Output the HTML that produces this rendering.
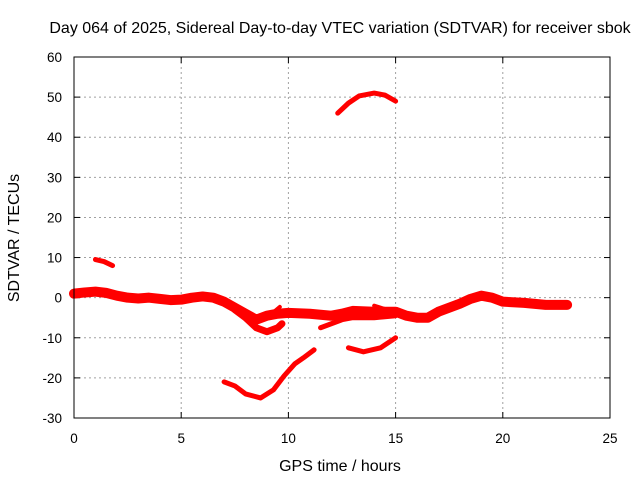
<!DOCTYPE html>
<html><head><meta charset="utf-8"><style>
html,body{margin:0;padding:0;background:#fff;}
svg{display:block;font-family:"Liberation Sans",sans-serif;}
</style></head><body>
<svg id="chart" width="640" height="480" viewBox="0 0 640 480">
<rect x="0" y="0" width="640" height="480" fill="#fff"/>
<text x="340" y="33" font-size="16" text-anchor="middle" fill="#000">Day 064 of 2025, Sidereal Day-to-day VTEC variation (SDTVAR) for receiver sbok</text>
<text x="340" y="471" font-size="16" text-anchor="middle" fill="#000">GPS time / hours</text>
<text x="19" y="238" font-size="16" text-anchor="middle" fill="#000" transform="rotate(-90 19 238)">SDTVAR / TECUs</text>
<g id="grid"></g><g id="ticks"></g><g id="series"></g>
<rect x="74" y="57" width="536" height="361" fill="none" stroke="#000" stroke-width="1"/>
</svg>
<script>
const xTicks=[0,5,10,15,20,25];
const yTicks=[-30,-20,-10,0,10,20,30,40,50,60];
const mainBand=[[0,1],[0.5,1.3],[1,1.5],[1.5,1.2],[2,0.5],[2.5,0],[3,-0.2],[3.5,0],[4,-0.3],[4.5,-0.6],[5,-0.5],[5.5,0],[6,0.3],[6.5,0],[7,-1],[7.5,-2.5],[8,-4],[8.5,-5.5],[9,-4.5],[9.5,-4],[10,-3.8],[11,-4],[12,-4.5],[12.5,-4],[13,-3.3],[14,-3.5],[15,-3.5],[15.5,-4.5],[16,-5],[16.5,-5],[17,-3.5],[17.5,-2.5],[18,-1.5],[18.5,-0.3],[19,0.5],[19.5,0],[20,-1],[21,-1.3],[22,-1.8],[23,-1.8]];
const dipBranch=[[7.5,-3],[8,-5],[8.5,-7.5],[9,-8.5],[9.5,-7.5],[9.7,-6.5]];
const spike=[[9,-5],[9.6,-2.3]];
const midLower=[[11.5,-7.5],[12,-6.5],[12.5,-5.5],[13,-5],[14,-5],[15,-4.5]];
const smallUpper=[[14,-2],[14.6,-3]];
const highArc=[[12.3,46],[12.8,48.5],[13.3,50.3],[14,51],[14.5,50.5],[15,49]];
const earlyBlip=[[1,9.5],[1.4,9],[1.8,8]];
const lowTrack=[[7,-21],[7.5,-22],[8,-24],[8.7,-25],[9.3,-23],[9.8,-19.5],[10.3,-16.5],[10.7,-15],[11.2,-13]];
const afternoonDip=[[12.8,-12.5],[13.5,-13.5],[14.3,-12.5],[15,-10]];
const tracks=[mainBand,dipBranch,spike,midLower,smallUpper,highArc,earlyBlip,lowTrack,afternoonDip];
const trackNames=['main-band','dip-branch','spike','mid-lower','small-upper','high-arc','early-blip','low-track','afternoon-dip'];
const trackWidths=[10,7,4,5,4,5,5,5,5];
const X=v=>74+v*536/25, Y=v=>418-(v+30)*361/90;
const NS='http://www.w3.org/2000/svg';
const g=document.getElementById('grid'), t=document.getElementById('ticks'), s=document.getElementById('series');
function mk(tag,attrs,parent){const e=document.createElementNS(NS,tag);for(const k in attrs)e.setAttribute(k,attrs[k]);parent.appendChild(e);return e;}
xTicks.forEach(v=>{
  if(v>0&&v<25){const l=mk('line',{x1:X(v),x2:X(v),y1:57,y2:418,stroke:'#a0a0a0','stroke-dasharray':'2,3'},g);
  
  }
  mk('line',{x1:X(v),x2:X(v),y1:418,y2:412,stroke:'#000'},t);mk('line',{x1:X(v),x2:X(v),y1:57,y2:63,stroke:'#000'},t);
  const tx=mk('text',{x:X(v),y:443,'font-size':13.5,'text-anchor':'middle'},t);tx.textContent=v;
  
  
});
yTicks.forEach(v=>{
  if(v>-30&&v<60){const l=mk('line',{x1:74,x2:610,y1:Y(v),y2:Y(v),stroke:'#a0a0a0','stroke-dasharray':'2,3'},g);
  
  }
  mk('line',{x1:74,x2:80,y1:Y(v),y2:Y(v),stroke:'#000'},t);mk('line',{x1:604,x2:610,y1:Y(v),y2:Y(v),stroke:'#000'},t);
  const tx=mk('text',{x:62,y:Y(v)+5,'font-size':13.5,'text-anchor':'end'},t);tx.textContent=v;
  
  
});
tracks.forEach((tr,i)=>{
  const p=mk('polyline',{points:tr.map(d=>X(d[0])+','+Y(d[1])).join(' '),fill:'none',stroke:'#ff0000','stroke-width':trackWidths[i],'stroke-linejoin':'round','stroke-linecap':'round'},s);
  
  
});
</script>
</body></html>
